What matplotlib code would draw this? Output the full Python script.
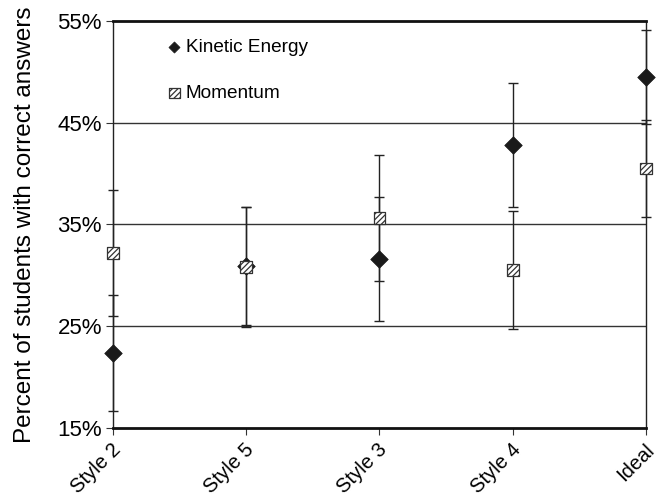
import matplotlib
matplotlib.use("Agg")
import matplotlib.pyplot as plt
from matplotlib.transforms import ScaledTranslation

# values (percent)
categories = ["Style 2", "Style 5", "Style 3", "Style 4", "Ideal"]
ke_values = [22.4, 30.9, 31.6, 42.8, 49.5]
ke_errors = [5.7, 5.8, 6.1, 6.1, 4.6]
mom_values = [32.2, 30.8, 35.6, 30.5, 40.5]
mom_errors = [6.2, 5.9, 6.2, 5.8, 4.8]
y_ticks = [15, 25, 35, 45, 55]

plt.rcParams["font.family"] = ["Liberation Sans", "DejaVu Sans"]
plt.rcParams["hatch.linewidth"] = 0.9

fig = plt.figure(figsize=(6.57, 5.01), dpi=100)
ax = fig.add_axes([0.172, 0.146, 0.811, 0.812])

x = list(range(len(categories)))

# gridlines
for yv in y_ticks[1:-1]:
    ax.axhline(yv, color="#333333", linewidth=1.0, zorder=1)

ax.errorbar(x, ke_values, yerr=ke_errors, fmt="none", ecolor="#222222",
            elinewidth=1.0, capsize=3.5, capthick=1.0, zorder=2, clip_on=False)
ax.errorbar(x, mom_values, yerr=mom_errors, fmt="none", ecolor="#222222",
            elinewidth=1.0, capsize=3.5, capthick=1.0, zorder=2, clip_on=False)

ax.scatter(x, ke_values, marker="D", s=80, color="#1a1a1a",
           edgecolor="#1a1a1a", linewidth=0.5, zorder=3, clip_on=False,
           label="Kinetic Energy")
ax.scatter(x, mom_values, marker="s", s=72, facecolor="white",
           edgecolor="#333333", hatch="//////", linewidth=0.9, zorder=4,
           clip_on=False, label="Momentum")

ax.set_xlim(0, len(categories) - 1)
ax.set_ylim(15, 55)
ax.set_yticks(y_ticks)
ax.set_yticklabels([f"{v}%" for v in y_ticks], fontsize=16)
ax.set_xticks(x)
ax.set_xticklabels(categories, rotation=45, ha="right", va="center",
                   rotation_mode="anchor", fontsize=14.5)
ax.tick_params(axis="both", direction="out", length=5, width=0.8,
               color="#333333", pad=3)
ax.tick_params(axis="x", pad=0)

# excel-style placement: label end sits a bit right of / below the tick
shift = ScaledTranslation(0.05, -0.12, fig.dpi_scale_trans)
for lbl in ax.get_xticklabels():
    lbl.set_transform(lbl.get_transform() + shift)

ax.set_ylabel("Percent of students with correct answers", fontsize=17.5,
              labelpad=15)

for side in ["top", "bottom"]:
    ax.spines[side].set_linewidth(2.0)
    ax.spines[side].set_color("#111111")
for side in ["left", "right"]:
    ax.spines[side].set_linewidth(1.0)
    ax.spines[side].set_color("#222222")

leg = ax.legend(loc="upper left", bbox_to_anchor=(0.085, 0.975), frameon=False,
                fontsize=13.7, labelspacing=1.5, handletextpad=0.15,
                scatterpoints=1, handlelength=0.9, borderaxespad=0)
leg.legend_handles[0].set_sizes([32])
leg.legend_handles[1].set_sizes([60])

fig.savefig("out.png", dpi=100)
